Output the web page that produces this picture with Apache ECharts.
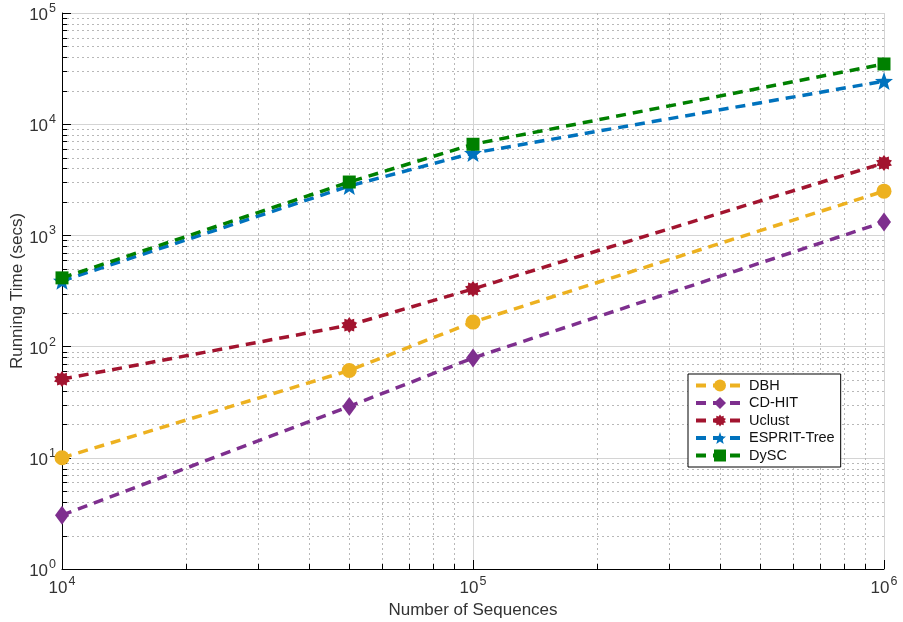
<!DOCTYPE html>
<html><head><meta charset="utf-8">
<script src="https://cdn.jsdelivr.net/npm/echarts@6/dist/echarts.min.js"></script>
<style>html,body{margin:0;padding:0;background:#fff}#c{width:903px;height:622px}</style>
</head><body><div id="c"></div>
<script>
const xValues = [1e4, 5e4, 1e5, 1e6];
const seriesNames = ['DBH', 'CD-HIT', 'Uclust', 'ESPRIT-Tree', 'DySC'];
const dbh = [10, 61, 166, 2500];
const cdhit = [3.05, 29, 79, 1320];
const uclust = [51, 156, 330, 4480];
const esprit = [390, 2780, 5500, 24400];
const dysc = [415, 3020, 6600, 34800];
const colors = ['#EDB120', '#7E2F8E', '#A2142F', '#0072BD', '#008000'];

function starPath(n, r1, r2) {
  let s = '';
  for (let i = 0; i < 2 * n; i++) {
    const r = i % 2 === 0 ? r1 : r2;
    const a = -Math.PI / 2 + i * Math.PI / n;
    s += (i === 0 ? 'M' : 'L') + (50 + r * Math.cos(a)).toFixed(2) + ' ' + (50 + r * Math.sin(a)).toFixed(2) + ' ';
  }
  return 'path://' + s + 'Z';
}
const symbols = ['circle', 'diamond', starPath(10, 50, 36), starPath(5, 50, 21), 'rect'];
const sizes = [15, [14, 19], 16, 18, 13];
const allData = [dbh, cdhit, uclust, esprit, dysc];

const minorY = [];
for (let d = 0; d < 5; d++) for (let k = 2; k <= 9; k++) minorY.push(k * Math.pow(10, d));
const minorX = [];
for (let d = 4; d < 6; d++) for (let k = 2; k <= 9; k++) minorX.push(k * Math.pow(10, d));

function powLabel(v) {
  const e = Math.round(Math.log10(v));
  return '{b|10}{s|' + e + '}';
}
const FONT = 'Liberation Sans, Arial';
const rich = {
  b: {fontSize: 17, color: '#333', fontFamily: FONT, verticalAlign: 'bottom', lineHeight: 22},
  s: {fontSize: 12.5, color: '#333', fontFamily: FONT, verticalAlign: 'top', lineHeight: 22, padding: [0, 0, 0, 1]}
};

const chart = echarts.init(document.getElementById('c'));
const lineSeries = seriesNames.map((name, i) => ({
  name: name,
  type: 'line',
  data: xValues.map((x, j) => [x, allData[i][j]]),
  symbol: symbols[i],
  symbolSize: sizes[i],
  lineStyle: {color: colors[i], width: 3.5, type: [10, 7]},
  itemStyle: {color: colors[i]},
  z: 5 + i
}));

const gridSeries = {
  type: 'custom',
  silent: true,
  z: 1,
  data: [[1e4, 1]],
  renderItem: function (params, api) {
    const cs = params.coordSys;
    const children = [];
    const dotted = {stroke: '#b8b8b8', lineWidth: 1, lineDash: [2, 3]};
    minorY.forEach(v => {
      const y = Math.round(api.coord([1e4, v])[1]) + 0.5;
      children.push({type: 'line', shape: {x1: cs.x, y1: y, x2: cs.x + cs.width, y2: y}, style: dotted});
      children.push({type: 'line', shape: {x1: cs.x, y1: y, x2: cs.x + 5, y2: y}, style: {stroke: '#000', lineWidth: 1}});
    });
    minorX.forEach(v => {
      const x = Math.round(api.coord([v, 1])[0]) + 0.5;
      children.push({type: 'line', shape: {x1: x, y1: cs.y, x2: x, y2: cs.y + cs.height}, style: dotted});
      children.push({type: 'line', shape: {x1: x, y1: cs.y + cs.height, x2: x, y2: cs.y + cs.height - 5}, style: {stroke: '#000', lineWidth: 1}});
    });
    return {type: 'group', children: children};
  }
};

chart.setOption({
  animation: false,
  backgroundColor: '#fff',
  grid: {left: 62, top: 13, right: 19, bottom: 53, containLabel: false, outerBoundsMode: 'none'},
  legend: {
    orient: 'vertical',
    left: 688, top: 374,
    data: seriesNames,
    backgroundColor: '#fff',
    borderColor: '#000',
    borderWidth: 1,
    padding: [4, 6, 4, 6],
    itemGap: 2.5,
    itemWidth: 48,
    itemHeight: 15,
    lineStyle: {width: 4},
    textStyle: {fontSize: 14.5, color: '#111', fontFamily: FONT}
  },
  xAxis: {
    type: 'log', logBase: 10, min: 1e4, max: 1e6,
    name: 'Number of Sequences', nameLocation: 'middle', nameGap: 33,
    nameMoveOverlap: false,
    nameTextStyle: {fontSize: 17, color: '#333', fontFamily: FONT},
    axisLine: {lineStyle: {color: '#000', width: 1}},
    axisTick: {inside: true, length: 9, lineStyle: {color: '#000'}},
    axisLabel: {formatter: powLabel, rich: rich, margin: 6},
    splitLine: {show: true, lineStyle: {color: '#d4d4d4', width: 1}},
    minorTick: {show: false}, minorSplitLine: {show: false}
  },
  yAxis: {
    type: 'log', logBase: 10, min: 1, max: 1e5,
    name: 'Running Time (secs)', nameLocation: 'middle', nameGap: 36,
    nameMoveOverlap: false,
    nameTextStyle: {fontSize: 17, color: '#333', fontFamily: FONT},
    axisLine: {show: true, lineStyle: {color: '#000', width: 1}},
    axisTick: {show: true, inside: true, length: 9, lineStyle: {color: '#000'}},
    axisLabel: {formatter: powLabel, rich: rich, margin: 6},
    splitLine: {show: true, lineStyle: {color: '#d4d4d4', width: 1}},
    minorTick: {show: false}, minorSplitLine: {show: false}
  },
  series: [gridSeries].concat(lineSeries)
});
</script></body></html>
